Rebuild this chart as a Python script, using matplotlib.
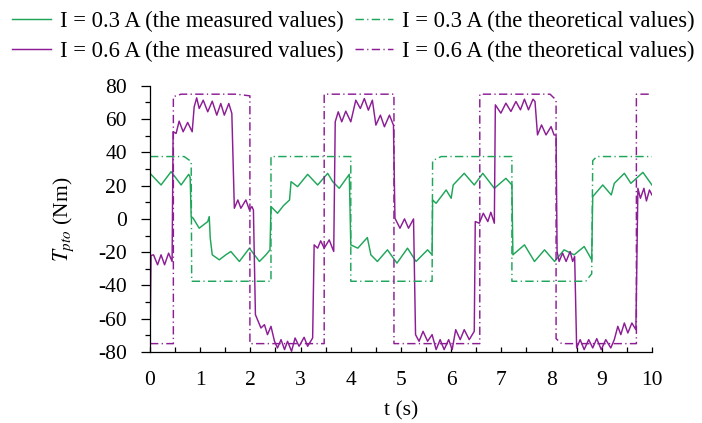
import matplotlib
matplotlib.use("Agg")
import matplotlib.pyplot as plt
from matplotlib.ticker import MultipleLocator

plt.rcParams['font.family'] = ['Liberation Serif', 'DejaVu Serif']
plt.rcParams['mathtext.fontset'] = 'stix'
plt.rcParams['lines.scale_dashes'] = False

GREEN = '#1FA65A'
PURPLE = '#8C1D95'

# measured, I = 0.3 A
t_m03 = [0, 0.22, 0.42, 0.62, 0.77, 0.80, 0.82, 0.86, 0.98, 1.15, 1.18, 1.20, 1.24,
         1.38, 1.51, 1.61, 1.78, 1.98, 2.18, 2.31, 2.39, 2.41, 2.54, 2.66, 2.78, 2.81,
         2.94, 3.14, 3.34, 3.54, 3.64, 3.77, 3.97, 4.0, 4.14, 4.33, 4.40, 4.53, 4.73,
         4.92, 5.13, 5.30, 5.53, 5.62, 5.63, 5.70, 5.90, 6.0, 6.04, 6.26, 6.46, 6.63,
         6.86, 7.09, 7.21, 7.23, 7.46, 7.66, 7.86, 8.06, 8.25, 8.45, 8.65, 8.80, 8.82,
         9.02, 9.19, 9.25, 9.45, 9.58, 9.82, 10.0]
v_m03 = [27.4, 20.4, 28.4, 20.4, 26.8, 25, 1.4, 0.4, -5.6, -1.6, 1.4, -11.6, -21.6,
         -24.6, -21.6, -19.6, -25.6, -17.6, -25.6, -21.6, -18.6, 7.4, 3.4, 8, 11.4, 22.4,
         19.4, 26.8, 20.4, 27.4, 22.4, 18.4, 26.8, -15.6, -17.6, -11.2, -21.6, -25.6, -18.6,
         -26.6, -17.6, -25.6, -18.6, -21.6, 11.4, 9.4, 17.4, 12.4, 20.4, 27.4, 20.4, 27.4,
         18.4, 24.4, 20.4, -21.6, -15.6, -25.6, -18.6, -25.6, -18.6, -21.6, -16.6, -24.6, 13.4,
         20.4, 14.4, 21.4, 27.4, 21.4, 28.0, 20.4]

# measured, I = 0.6 A
t_m06 = [0, 0.02, 0.07, 0.15, 0.22, 0.29, 0.37, 0.44, 0.46, 0.52, 0.58, 0.66, 0.75, 0.84,
         0.88, 0.93, 0.98, 1.06, 1.15, 1.24, 1.33, 1.41, 1.48, 1.57, 1.63, 1.68, 1.75, 1.81,
         1.91, 1.98, 2.03, 2.06, 2.10, 2.21, 2.28, 2.34, 2.41, 2.48, 2.54, 2.61, 2.68, 2.74,
         2.82, 2.89, 2.97, 3.07, 3.14, 3.24, 3.27, 3.34, 3.40, 3.47, 3.57, 3.66, 3.69, 3.75,
         3.82, 3.90, 4.0, 4.1, 4.19, 4.27, 4.35, 4.43, 4.50, 4.59, 4.67, 4.77, 4.85, 4.88,
         4.98, 5.07, 5.15, 5.25, 5.29, 5.36, 5.44, 5.53, 5.62, 5.70, 5.78, 5.86, 5.95, 6.02,
         6.09, 6.18, 6.26, 6.36, 6.46, 6.48, 6.56, 6.64, 6.73, 6.79, 6.86, 6.88, 6.99, 7.09,
         7.19, 7.29, 7.38, 7.46, 7.54, 7.63, 7.67, 7.72, 7.80, 7.89, 7.99, 8.05, 8.09, 8.11,
         8.15, 8.22, 8.29, 8.37, 8.42, 8.46, 8.50, 8.57, 8.65, 8.74, 8.82, 8.90, 8.99, 9.08,
         9.18, 9.25, 9.32, 9.38, 9.45, 9.52, 9.60, 9.68, 9.72, 9.77, 9.84, 9.89, 9.95, 10.0]
v_m06 = [-75, -22, -21.6, -27.6, -21.6, -27.6, -20.6, -25.6, 52.4, 51.4, 58.8, 52.4, 58,
         52.4, 67.4, 72.8, 66.4, 71.4, 64.4, 70.8, 62.4, 69.4, 62.4, 69.4, 63.4, 6.4, 11.4,
         6.4, 11.4, 5.4, 7.4, 5.4, -57.6, -65.6, -63.6, -69.6, -64.6, -73.6, -77.6, -72.6,
         -78.6, -73.6, -79.6, -71.6, -76.6, -71.2, -76.6, -71.6, -15.6, -17.6, -13.2, -17.6,
         -12.6, -19.6, 58.4, 64.4, 58.4, 64.8, 58.4, 71.4, 66.4, 72.4, 65.4, 71.4, 56.4, 62.4,
         55.4, 62.4, 56.4, 0.4, -5.6, 0, -5.6, 0, -69.6, -73.6, -67.6, -73.6, -69.6, -78.6,
         -72.6, -78.6, -72.6, -78.6, -66.6, -72.6, -66.6, -72.6, -67.6, -1.6, -2.6, 3.4, -1.6,
         4, -2.6, 68.6, 63.6, 69.6, 64.6, 70.6, 65.6, 72, 65.6, 72, 70.6, 50.5, 56.5, 50.5,
         55.5, 50.5, 50.4, -19.6, -25.6, -20.6, -25.6, -19.6, -25.6, -22.6, -77.6, -72.6,
         -78.6, -72.6, -77.6, -72, -78.6, -72.6, -77.6, -72.6, -64.6, -69.6, -62.6, -68.6,
         -62.6, -66.6, 18.4, 12.4, 18.4, 10.8, 17.4, 14.4]

# theoretical, I = 0.3 A
t_th03 = [0, 0.68, 0.82, 0.83, 2.41, 2.41, 4.0, 4.0, 5.62, 5.63, 5.80, 7.21, 7.21,
          8.68, 8.80, 8.82, 8.90, 10.0]
v_th03 = [37.5, 37.5, 34.5, -37.5, -37.5, 37.5, 37.5, -37.5, -37.5, 35, 37.5, 37.5, -37.5,
          -37.5, -33, 35, 37.5, 37.5]

# theoretical, I = 0.6 A
t_th06 = [0, 0.465, 0.465, 0.62, 1.72, 1.99, 1.99, 3.47, 3.47, 4.86, 4.86, 6.57, 6.57,
          7.97, 8.09, 8.09, 8.20, 9.69, 9.69, 10.0]
v_th06 = [-75, -75, 73.5, 75, 75, 74, -75, -75, 75, 75, -75, -75, 75,
          75, 71.5, -72, -75, -75, 75, 75]

labels = ['I = 0.3 A (the measured values)', 'I = 0.6 A (the measured values)',
          'I = 0.3 A (the theoretical values)', 'I = 0.6 A (the theoretical values)']

fig = plt.figure(figsize=(7.02, 4.23), dpi=100)
ax = fig.add_axes([0.2137, 0.168, 0.715, 0.629])

dashdot = (0, (6, 2.4, 0.9, 2.4))
lw = 1.05
l1, = ax.plot(t_m03, v_m03, color=GREEN, lw=lw)
l2, = ax.plot(t_m06, v_m06, color=PURPLE, lw=lw)
l3, = ax.plot(t_th03, v_th03, color=GREEN, lw=lw, linestyle=dashdot)
l4, = ax.plot(t_th06, v_th06, color=PURPLE, lw=lw, linestyle=dashdot)

ax.set_xlim(0, 10)
ax.set_ylim(-80, 80)
ax.spines['top'].set_visible(False)
ax.spines['right'].set_visible(False)
ax.xaxis.set_major_locator(MultipleLocator(1))
ax.xaxis.set_minor_locator(MultipleLocator(0.5))
ax.yaxis.set_major_locator(MultipleLocator(20))
ax.yaxis.set_minor_locator(MultipleLocator(10))
ax.tick_params(axis='x', which='both', direction='in', length=3.5, width=0.9,
               labelsize=15.5, pad=14)
ax.tick_params(axis='y', which='major', direction='out', length=6.5, width=0.9,
               labelsize=15.5, pad=10)
ax.tick_params(axis='y', which='minor', direction='out', length=3.5, width=0.9)
for s in ['left', 'bottom']:
    ax.spines[s].set_linewidth(0.9)
ax.set_yticks([-80, -60, -40, -20, 0, 20, 40, 60, 80])
ax.set_yticklabels(['-80', '-60', '-40', '-20', '0', '20', '40', '60', '80'])

ax.set_xlabel('t (s)', fontsize=15.5, labelpad=8)
ax.set_ylabel(r'$T_{pto}$ (Nm)', fontsize=15.5, labelpad=16)

fig.legend([l1, l2, l3, l4], labels, ncol=2, loc='upper center',
           bbox_to_anchor=(0.5036, 1.006), frameon=False, fontsize=16.3,
           handlelength=1.7, handletextpad=0.4, columnspacing=0.5,
           labelspacing=0.38, borderaxespad=0.2)

fig.savefig('out.png', dpi=100)
